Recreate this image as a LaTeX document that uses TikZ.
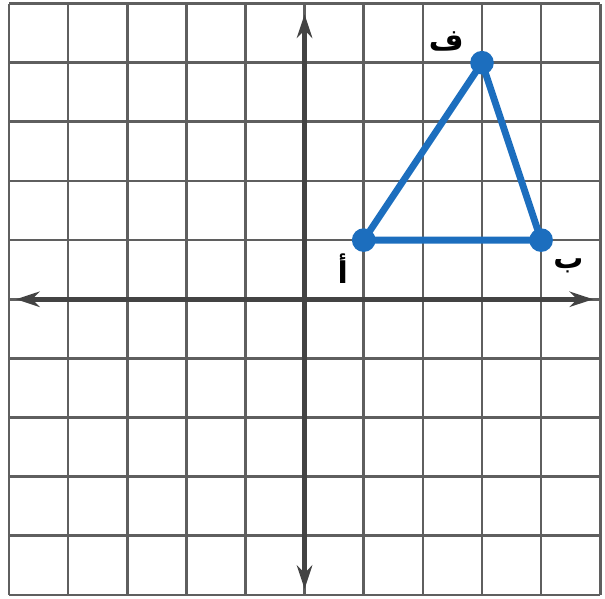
\documentclass[tikz,border=0pt]{standalone}
\usepackage{fontspec}
\newfontfamily\arabicfont[Script=Arabic]{DejaVu Sans}
\TeXXeTstate=1
\usetikzlibrary{arrows.meta,positioning}
\definecolor{triblue}{RGB}{28,110,190}
\definecolor{gridgray}{RGB}{95,95,95}

\begin{document}
\begin{tikzpicture}[
    node distance=0.1cm and 0.1cm,
    gridline/.style={
        draw=gridgray,
        line width=1.3pt
    },
    axis/.style={
        -{Stealth[length=0.4cm,width=0.26cm]},
        draw=gridgray!70!black,
        line width=2.2pt
    },
    vertex/.style={
        circle,
        fill=triblue,
        minimum size=0.4cm,
        inner sep=0pt
    },
    side/.style={
        draw=triblue,
        line width=3.3pt,
        line join=round
    },
    lbl/.style={
        font=\arabicfont\bfseries\Large,
        inner sep=1pt
    },
]

\useasboundingbox (-5.15,-5.06) rectangle (5.08,5.06);

% grid
\draw[gridline] (-5,-5) grid (5,5);

% axes
\coordinate (xl) at (-4.88,0);
\coordinate (xr) at (4.88,0);
\coordinate (yb) at (0,-4.9);
\coordinate (yt) at (0,4.82);
\draw[axis] (0,0) -- (xr);
\draw[axis] (0,0) -- (xl);
\draw[axis] (0,0) -- (yt);
\draw[axis] (0,0) -- (yb);

% nodes
\node[vertex] (A) at (1,1) {};
\node[vertex] (B) at (4,1) {};
\node[vertex] (F) at (3,4) {};

\node[lbl, above left=0.0cm and 0.12cm of F] (lF) {\beginR ف\endR};
\node[lbl, below left=0.05cm and 0.08cm of A] (lA) {\beginR أ\endR};
\node[lbl, below right=0.12cm and 0.02cm of B] (lB) {\beginR ب\endR};

% sides
\draw[side] (A.center) -- (F.center) -- (B.center) -- cycle;

\end{tikzpicture}
\end{document}
